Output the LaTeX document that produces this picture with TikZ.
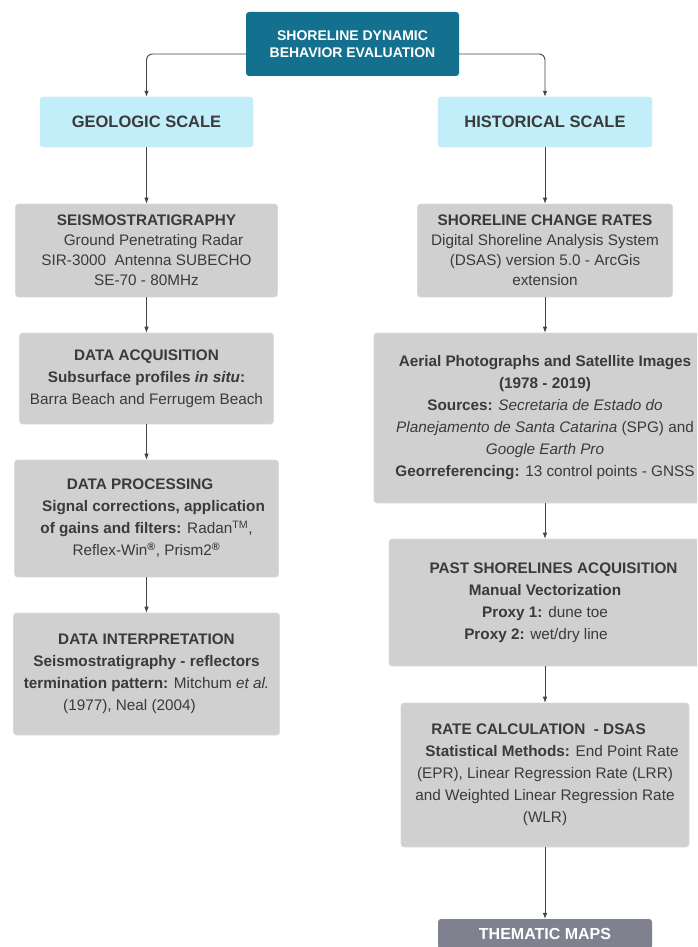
\documentclass[tikz,border=0pt]{standalone}
\usepackage{fontspec}
\setmainfont{Liberation Sans}
\usetikzlibrary{arrows.meta}
\definecolor{teal1}{HTML}{13718F}
\definecolor{cyan1}{HTML}{C2EEF9}
\definecolor{gbox}{HTML}{D0D0D0}
\definecolor{gline}{HTML}{DADADA}
\definecolor{tmaps}{HTML}{80818F}
\definecolor{txt}{HTML}{3A3A3A}
\definecolor{arrc}{HTML}{444444}
\definecolor{topc}{HTML}{8A8A8A}
\tikzset{
  box/.style={rectangle, rounded corners=3pt, inner sep=0pt, align=center},
  topbox/.style={box, fill=teal1, text=white, font=\fontsize{14pt}{17pt}\selectfont\bfseries},
  scalebox/.style={box, fill=cyan1, draw=cyan1!80!gray!60, line width=0.4pt, text=txt, font=\fontsize{16.5pt}{20pt}\selectfont\bfseries},
  graybox/.style={box, fill=gbox, draw=gline, line width=0.6pt, text=txt, font=\fontsize{15.3pt}{22pt}\selectfont},
  mapbox/.style={box, fill=tmaps, text=white, font=\fontsize{16pt}{19pt}\selectfont\bfseries},
  arr/.style={draw=arrc, line width=0.7pt, -{Latex[length=6pt,width=4.5pt]}},
  toparr/.style={draw=topc, line width=0.9pt, rounded corners=6pt, -{Latex[length=6pt,width=4.5pt]}, arrc}
}
\begin{document}
\begin{tikzpicture}[x=1pt,y=-1pt]
\useasboundingbox (0,0) rectangle (697,947);
\clip (0,0) rectangle (697,947);
% top
\node[topbox, minimum width=213pt, minimum height=64pt] (top) at (352.5,44)
  {SHORELINE DYNAMIC\\BEHAVIOR EVALUATION};
% scales
\node[scalebox, minimum width=213pt, minimum height=50pt] (geo) at (146.5,122) {GEOLOGIC SCALE};
\node[scalebox, minimum width=214pt, minimum height=50pt] (his) at (545,122) {HISTORICAL SCALE};
% left column
\node[graybox, minimum width=262pt, minimum height=93pt, font=\fontsize{15.3pt}{20pt}\selectfont] (seis) at (146.5,250.5)
  {\textbf{SEISMOSTRATIGRAPHY}\\
   \hspace*{14pt}Ground Penetrating Radar\\
   SIR-3000~~Antenna SUBECHO\\
   SE-70 - 80MHz};
\node[graybox, minimum width=254pt, minimum height=91pt] (acq) at (146.5,378.5)
  {\textbf{DATA ACQUISITION}\\
   \textbf{Subsurface profiles \textit{in situ}:}\\
   Barra Beach and Ferrugem Beach};
\node[graybox, minimum width=264pt, minimum height=117pt] (proc) at (146.5,518.5)
  {\textbf{DATA PROCESSING}\hspace*{13pt}\\
   \hspace*{14pt}\textbf{Signal corrections, application}\\
   \textbf{of gains and filters:} Radan\textsuperscript{TM},\\
   Reflex-Win\textsuperscript{\textbf{®}}, Prism2\textsuperscript{\textbf{®}}};
\node[graybox, minimum width=266pt, minimum height=122pt] (int) at (146.5,674)
  {\textbf{DATA INTERPRETATION}\\
   \textbf{Seismostratigraphy - reflectors}\\
   \textbf{termination pattern:} Mitchum \textit{et al.}\\
   (1977), Neal (2004)\hspace*{34pt}};
% right column
\node[graybox, minimum width=255pt, minimum height=93pt, font=\fontsize{15.3pt}{20pt}\selectfont] (scr) at (545,250.5)
  {\textbf{SHORELINE CHANGE RATES}\\
   Digital Shoreline Analysis System\\
   (DSAS) version 5.0 - ArcGis\\
   extension};
\node[graybox, minimum width=342pt, minimum height=170pt] (aer) at (545,418)
  {\textbf{Aerial Photographs and Satellite Images}\\
   \textbf{(1978 - 2019)}\\
   \textbf{Sources:} \textit{Secretaria de Estado do}\\
   \textit{Planejamento de Santa Catarina} (SPG) and\\
   \textit{Google Earth Pro}\\
   \textbf{Georreferencing:} 13 control points - GNSS};
\node[graybox, minimum width=312pt, minimum height=127pt] (past) at (545,602.5)
  {\hspace*{17pt}\textbf{PAST SHORELINES ACQUISITION}\\
   \textbf{Manual Vectorization}\hspace*{24pt}\\
   \textbf{Proxy 1:} dune toe\hspace*{24pt}\\
   \textbf{Proxy 2:} wet/dry line\hspace*{18pt}};
\node[graybox, minimum width=288pt, minimum height=144pt] (rate) at (545,775)
  {\textbf{RATE CALCULATION~~- DSAS}\hspace*{13pt}\\
   \hspace*{14pt}\textbf{Statistical Methods:} End Point Rate\\
   (EPR), Linear Regression Rate (LRR)\\
   and Weighted Linear Regression Rate\\
   (WLR)};
\node[mapbox, minimum width=214pt, minimum height=30pt] (maps) at (545,934) {THEMATIC MAPS};
% connectors
\draw[toparr] ([yshift=-10pt]top.west) -| (geo.north);
\draw[toparr] ([yshift=-10pt]top.east) -| (his.north);
\draw[arr] (geo.south) -- (geo.south |- seis.north);
\draw[arr] (seis.south) -- (seis.south |- acq.north);
\draw[arr] (acq.south) -- (acq.south |- proc.north);
\draw[arr] (proc.south) -- (proc.south |- int.north);
\draw[arr] (his.south) -- (his.south |- scr.north);
\draw[arr] (scr.south) -- (scr.south |- aer.north);
\draw[arr] (aer.south) -- (aer.south |- past.north);
\draw[arr] (past.south) -- (past.south |- rate.north);
\draw[arr] (rate.south) -- (rate.south |- maps.north);
\end{tikzpicture}
\end{document}
